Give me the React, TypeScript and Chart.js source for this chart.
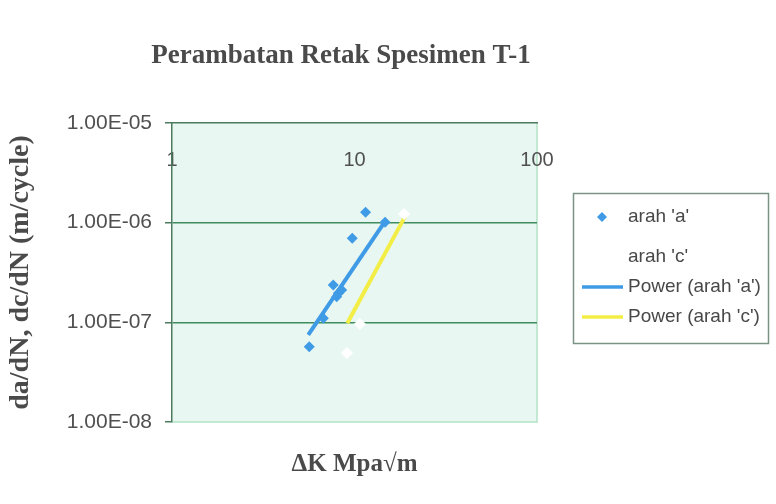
import { useEffect, useRef } from "react";
import { Chart, registerables } from "chart.js";

Chart.register(...registerables);

// Titles
const TITLE = "Perambatan Retak Spesimen T-1";
const X_TITLE = "ΔK Mpa√m";
const Y_TITLE = "da/dN, dc/dN (m/cycle)";

// Axis tick values (log decades)
const X_TICKS = [1, 10, 100];
const Y_TICKS = [1e-8, 1e-7, 1e-6, 1e-5];

// Measured crack growth, direction 'a'
const ARAH_A_DK = [5.65, 6.75, 7.65, 7.99, 8.15, 8.51, 9.72, 11.5, 14.7];
const ARAH_A_RATE = [5.7e-8, 1.1e-7, 2.37e-7, 1.81e-7, 1.96e-7, 2.11e-7, 6.97e-7, 1.27e-6, 1.01e-6];

// Measured crack growth, direction 'c'
const ARAH_C_DK = [9.1, 10.7, 18.7];
const ARAH_C_RATE = [4.93e-8, 9.6e-8, 1.22e-6];

// Power-law trend lines (end points)
const POWER_A_DK = [5.58, 14.7];
const POWER_A_RATE = [7.48e-8, 1.03e-6];
const POWER_C_DK = [9.13, 18.9];
const POWER_C_RATE = [9.8e-8, 1.15e-6];

const SERIES_LABELS = ["arah 'a'", "arah 'c'", "Power (arah 'a')", "Power (arah 'c')"];

const BLUE = "#3f9be6";
const YELLOW = "#f3ee45";
const AXIS = "#4b7a5e";
const GRID = "#3f8d5f";
const FRAME = "#b3e2c4";
const PLOT_BG = "#e8f7f1";
const TEXT = "#505050";

const pts = (xs: number[], ys: number[]) => xs.map((x, i) => ({ x, y: ys[i] }));

function sci(v: number): string {
  const [m, e] = v.toExponential(2).split("e");
  const n = parseInt(e, 10);
  return `${m}E${n < 0 ? "-" : "+"}${String(Math.abs(n)).padStart(2, "0")}`;
}

const plotBackdrop = {
  id: "plotBackdrop",
  beforeDraw(chart: any) {
    const { ctx, chartArea: a } = chart;
    ctx.save();
    ctx.fillStyle = "#ffffff";
    ctx.fillRect(0, 0, chart.width, chart.height);
    ctx.fillStyle = PLOT_BG;
    ctx.fillRect(a.left, a.top, a.right - a.left, a.bottom - a.top);
    ctx.strokeStyle = FRAME;
    ctx.lineWidth = 1.5;
    ctx.beginPath();
    ctx.moveTo(a.right, a.top);
    ctx.lineTo(a.right, a.bottom);
    ctx.lineTo(a.left, a.bottom);
    ctx.stroke();
    ctx.restore();
  },
};

const chartTitle = {
  id: "chartTitle",
  afterDraw(chart: any) {
    const { ctx } = chart;
    ctx.save();
    ctx.font = "bold 27px 'Liberation Serif', serif";
    ctx.fillStyle = "#4a4a4a";
    ctx.textAlign = "center";
    ctx.textBaseline = "alphabetic";
    ctx.fillText(TITLE, 341, 63);
    ctx.restore();
  },
};

const boxedLegend = {
  id: "boxedLegend",
  afterDraw(chart: any) {
    const { ctx } = chart;
    const rows = [217, 257, 287, 317];
    ctx.save();
    ctx.fillStyle = "#ffffff";
    ctx.fillRect(573, 193, 195, 150);
    ctx.strokeStyle = "#7b9384";
    ctx.lineWidth = 1.5;
    ctx.strokeRect(573.5, 193.5, 195, 150);
    chart.data.datasets.forEach((ds: any, i: number) => {
      const y = rows[i];
      if (ds.type === "line") {
        ctx.strokeStyle = ds.borderColor;
        ctx.lineWidth = 3.5;
        ctx.beginPath();
        ctx.moveTo(582, y);
        ctx.lineTo(623, y);
        ctx.stroke();
      } else {
        const r = 5;
        ctx.fillStyle = ds.backgroundColor;
        ctx.beginPath();
        ctx.moveTo(602, y - r);
        ctx.lineTo(602 + r, y);
        ctx.lineTo(602, y + r);
        ctx.lineTo(602 - r, y);
        ctx.closePath();
        ctx.fill();
      }
      ctx.fillStyle = "#484848";
      ctx.font = "19px 'Liberation Sans', Arial, sans-serif";
      ctx.textAlign = "left";
      ctx.textBaseline = "middle";
      ctx.fillText(ds.label, 628, y);
    });
    ctx.restore();
  },
};

export default function App() {
  const canvasRef = useRef<HTMLCanvasElement | null>(null);

  useEffect(() => {
    const canvas = canvasRef.current;
    if (!canvas) return;
    const chart = new Chart(canvas, {
      type: "scatter",
      data: {
        datasets: [
          {
            label: SERIES_LABELS[0],
            data: pts(ARAH_A_DK, ARAH_A_RATE),
            pointStyle: "rectRot",
            pointRadius: 5.5,
            backgroundColor: BLUE,
            borderColor: BLUE,
            borderWidth: 0,
          },
          {
            label: SERIES_LABELS[1],
            data: pts(ARAH_C_DK, ARAH_C_RATE),
            pointStyle: "rectRot",
            pointRadius: 6,
            backgroundColor: "#ffffff",
            borderColor: "#ffffff",
            borderWidth: 0,
          },
          {
            type: "line",
            label: SERIES_LABELS[2],
            data: pts(POWER_A_DK, POWER_A_RATE),
            borderColor: BLUE,
            borderWidth: 4,
            pointRadius: 0,
            fill: false,
          },
          {
            type: "line",
            label: SERIES_LABELS[3],
            data: pts(POWER_C_DK, POWER_C_RATE),
            borderColor: YELLOW,
            borderWidth: 4,
            pointRadius: 0,
            fill: false,
          },
        ] as any,
      },
      options: {
        animation: false,
        responsive: false,
        devicePixelRatio: 1,
        layout: { padding: { top: 123, right: 239, bottom: 0, left: 0 } },
        plugins: {
          legend: { display: false },
          title: { display: false },
          tooltip: { enabled: false },
        },
        scales: {
          x: {
            type: "logarithmic",
            position: "top",
            min: 1,
            max: 100,
            afterBuildTicks: (s: any) => {
              s.ticks = X_TICKS.map((value) => ({ value }));
            },
            afterFit: (s: any) => {
              s.height = 0;
            },
            grid: { display: false },
            border: { display: true, color: AXIS, width: 1.5 },
            ticks: {
              autoSkip: false,
              maxRotation: 0,
              mirror: true,
              padding: 25,
              color: TEXT,
              font: { family: "'Liberation Sans', Arial, sans-serif", size: 20 },
              callback: (v: any) => String(v),
            },
          },
          xb: {
            type: "logarithmic",
            axis: "x",
            position: "bottom",
            min: 1,
            max: 100,
            afterFit: (s: any) => {
              s.height = 82;
            },
            grid: { display: false },
            border: { display: false },
            ticks: { display: false },
            title: {
              display: true,
              text: X_TITLE,
              color: "#4a4a4a",
              font: { family: "'Liberation Serif', serif", size: 25, weight: "bold" },
              padding: { top: 0, bottom: 24 },
            },
          },
          y: {
            type: "logarithmic",
            min: 1e-8,
            max: 1e-5,
            afterBuildTicks: (s: any) => {
              s.ticks = Y_TICKS.map((value) => ({ value }));
            },
            afterFit: (s: any) => {
              s.width = 172;
            },
            grid: {
              color: (c: any) =>
                c.index > 0 && c.index < Y_TICKS.length - 1 ? GRID : "rgba(0,0,0,0)",
              lineWidth: 1.5,
              drawTicks: true,
              tickLength: 7,
              tickColor: AXIS,
            },
            border: { display: true, color: AXIS, width: 1.5 },
            ticks: {
              autoSkip: false,
              padding: 13,
              color: TEXT,
              font: { family: "'Liberation Sans', Arial, sans-serif", size: 21 },
              callback: (v: any) => sci(Number(v)),
            },
            title: {
              display: true,
              text: Y_TITLE,
              color: "#4a4a4a",
              font: { family: "'Liberation Serif', serif", size: 28, weight: "bold" },
              padding: { top: 4, bottom: 0 },
            },
          },
        },
      } as any,
      plugins: [plotBackdrop, chartTitle, boxedLegend],
    });
    return () => chart.destroy();
  }, []);

  return (
    <div style={{ position: "absolute", left: 0, top: 0, width: 776, height: 504, background: "#ffffff" }}>
      <canvas ref={canvasRef} width={776} height={504} style={{ display: "block" }} />
    </div>
  );
}
